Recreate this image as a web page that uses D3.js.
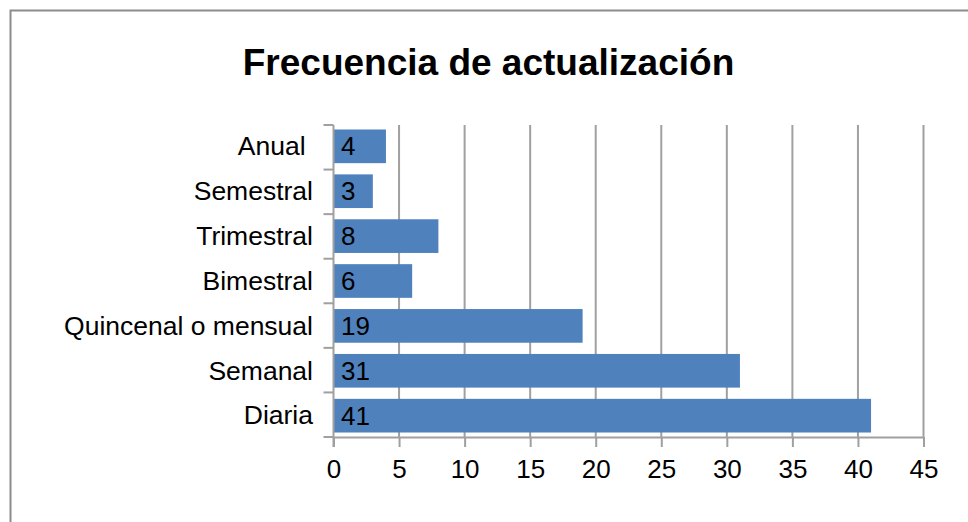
<!DOCTYPE html>
<html><head><meta charset="utf-8">
<script src="https://cdn.jsdelivr.net/npm/d3@7/dist/d3.min.js"></script>
<style>body{margin:0;background:#fff;}svg{display:block;}text{white-space:pre;}</style>
</head><body>
<svg id="c" width="968" height="522"></svg>
<script>
const title = "Frecuencia de actualización";
const categories = ["Anual ","Semestral","Trimestral","Bimestral","Quincenal o mensual","Semanal","Diaria"];
const values = [4,3,8,6,19,31,41];
const xTicks = [0,5,10,15,20,25,30,35,40,45];

const svg = d3.select("#c");
const font = "'Liberation Sans', Arial, sans-serif";
const pL = 333.5, pR = 923.5, pT = 125, pB = 437;
const grid = "#A0A0A0";

svg.append("rect").attr("x",10.5).attr("y",10.5).attr("width",1000).attr("height",1000)
  .attr("fill","none").attr("stroke","#8c8c8c").attr("stroke-width",2);

svg.append("text").attr("x",488.5).attr("y",75).attr("text-anchor","middle")
  .attr("font-family",font).attr("font-weight","bold").attr("font-size",37).text(title);

const x = d3.scaleLinear().domain([0,45]).range([pL,pR]);
const y = d3.scaleBand().domain(categories).range([pT,pB]).paddingInner(0.25).paddingOuter(0.1);

// gridlines
svg.append("g").selectAll("line").data(xTicks.slice(1)).join("line")
  .attr("x1",d=>x(d)).attr("x2",d=>x(d)).attr("y1",pT).attr("y2",pB)
  .attr("stroke",grid).attr("stroke-width",2);

// bars
svg.append("g").selectAll("rect").data(values).join("rect")
  .attr("x",x(0)).attr("y",(d,i)=>y(categories[i]))
  .attr("width",d=>x(d)-x(0)).attr("height",y.bandwidth())
  .attr("fill","#4F81BD");

// value labels
svg.append("g").selectAll("text").data(values).join("text")
  .attr("x",x(0)+7.5).attr("y",(d,i)=>y(categories[i])+y.bandwidth()/2)
  .attr("dy","0.35em").attr("font-family",font).attr("font-size",26).attr("fill","#000")
  .text(d=>d);

// x axis
const xa = svg.append("g").attr("transform",`translate(0,${pB})`)
  .call(d3.axisBottom(x).tickValues(xTicks).tickSize(10).tickPadding(13).tickSizeOuter(0));
xa.select(".domain").attr("stroke",grid).attr("stroke-width",2);
xa.selectAll(".tick line").attr("stroke",grid).attr("stroke-width",2);
xa.selectAll(".tick text").attr("font-family",font).attr("font-size",26).attr("fill","#000");

// y axis
const yb = d3.scaleLinear().domain([0,7]).range([pT,pB]);
const ya = svg.append("g").attr("transform",`translate(${pL},0)`);
ya.append("line").attr("x1",0).attr("x2",0).attr("y1",pT).attr("y2",pB+10).attr("stroke",grid).attr("stroke-width",2);
ya.selectAll("line.t").data(d3.range(8)).join("line").attr("class","t")
  .attr("x1",-10).attr("x2",0).attr("y1",d=>yb(d)).attr("y2",d=>yb(d)).attr("stroke",grid).attr("stroke-width",2);
ya.selectAll("text").data(categories).join("text")
  .attr("x",-20.5).attr("y",d=>y(d)+y.bandwidth()/2).attr("dy","0.33em")
  .attr("text-anchor","end").attr("font-family",font).attr("font-size",26.5).attr("fill","#000")
  .text(d=>d);
</script>
</body></html>
